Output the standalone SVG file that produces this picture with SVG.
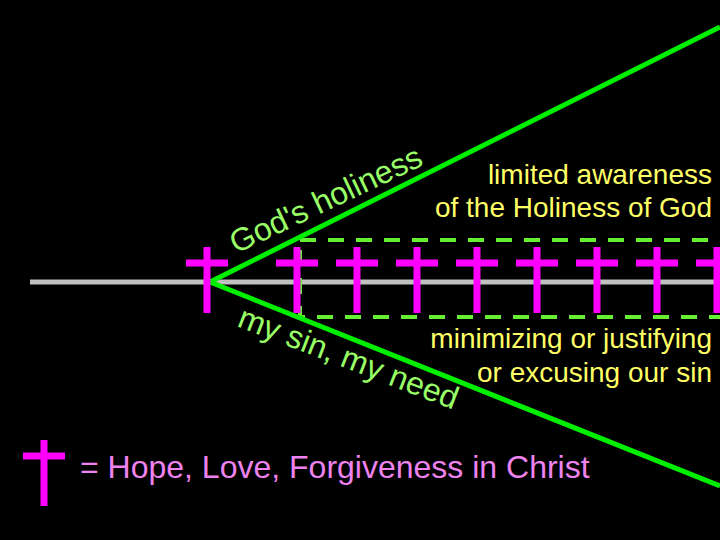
<svg xmlns="http://www.w3.org/2000/svg" width="720" height="540" viewBox="0 0 720 540">
<style>
.cr{stroke:#ff00ff;stroke-width:7;fill:none}
.g{stroke:#00ee00;stroke-width:5;fill:none}
.y{fill:#ffff66;font-family:"Liberation Sans",Arial,sans-serif;font-size:28px;text-anchor:end}
.lg{fill:#99ff66;font-family:"Liberation Sans",Arial,sans-serif;font-size:32px}
</style>
<defs>
<g id="cross"><path d="M0,-35V31M-21,-19H21"/></g>
<path id="p1" d="M236,254L460,148"/>
<path id="p2" d="M236,326L480,420"/>
</defs>
<rect width="720" height="540" fill="#000"/>
<g id="connectors">
<line x1="30" y1="282" x2="720" y2="282" stroke="#c0c0c0" stroke-width="5"/>
<rect x="300" y="240" width="440" height="77" fill="none" stroke="#66ee33" stroke-width="4" stroke-dasharray="16,12"/>
<line class="g" x1="210" y1="282" x2="720" y2="27"/>
<line class="g" x1="210" y1="282" x2="720" y2="486"/>
</g>
<g id="crosses" class="cr">
<use href="#cross" x="207" y="282"/><use href="#cross" x="297" y="282"/><use href="#cross" x="357" y="282"/>
<use href="#cross" x="417" y="282"/><use href="#cross" x="477" y="282"/><use href="#cross" x="537" y="282"/>
<use href="#cross" x="597" y="282"/><use href="#cross" x="657" y="282"/><use href="#cross" x="717" y="282"/>
</g>
<g id="labels">
<text class="lg"><textPath href="#p1">God's holiness</textPath></text>
<text class="lg"><textPath href="#p2">my sin, my need</textPath></text>
<text class="y" x="712" y="184">limited awareness</text>
<text class="y" x="712" y="217">of  the Holiness of God</text>
<text class="y" x="712" y="348">minimizing or justifying</text>
<text class="y" x="712" y="382">or excusing our sin</text>
</g>
<g id="legend">
<use href="#cross" class="cr" x="44" y="475"/>
<text x="80" y="478" fill="#ee82ee" font-family="Liberation Sans,Arial,sans-serif" font-size="32">= Hope, Love, Forgiveness in Christ</text>
</g>
</svg>
